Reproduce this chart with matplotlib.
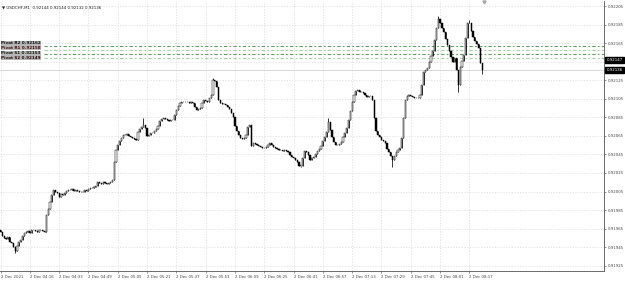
import matplotlib
matplotlib.use("Agg")
import matplotlib.pyplot as plt
import numpy as np

# ---- data (close prices in points, 0.00001) ----
first_open = 91963
closes = [
    91961, 91957, 91955, 91954, 91956, 91951, 91949, 91945, 91941, 91946,
    91951, 91953, 91957, 91960, 91961, 91962, 91960, 91964, 91963, 91962,
    91961, 91963, 91964, 91962, 91961, 91980, 91986, 91994, 92001, 92007,
    92004, 92003, 91999, 92002, 92001, 92003, 92006, 92007, 92007, 92008,
    92006, 92007, 92006, 92005, 92004, 92004, 92007, 92006, 92008, 92009,
    92009, 92010, 92011, 92015, 92014, 92013, 92015, 92014, 92013, 92014,
    92015, 92017, 92037, 92050, 92055, 92059, 92063, 92066, 92066, 92067,
    92065, 92064, 92063, 92062, 92060, 92069, 92072, 92075, 92077, 92073,
    92065, 92066, 92068, 92068, 92070, 92072, 92076, 92081, 92083, 92084,
    92083, 92082, 92081, 92082, 92082, 92087, 92093, 92097, 92100, 92101,
    92102, 92101, 92102, 92100, 92101, 92100, 92096, 92093, 92094, 92095,
    92100, 92104, 92103, 92102, 92106, 92109, 92125, 92124, 92118, 92104,
    92100, 92099, 92099, 92098, 92096, 92094, 92090, 92085, 92076, 92070,
    92066, 92063, 92062, 92063, 92066, 92075, 92077, 92054, 92057, 92056,
    92055, 92054, 92053, 92052, 92052, 92053, 92055, 92057, 92055, 92053,
    92052, 92051, 92050, 92050, 92049, 92050, 92049, 92048, 92044, 92042,
    92041, 92039, 92037, 92033, 92033, 92041, 92049, 92048, 92044, 92039,
    92041, 92042, 92045, 92049, 92051, 92054, 92059, 92064, 92069, 92080,
    92071, 92064, 92058, 92055, 92055, 92056, 92058, 92064, 92068, 92073,
    92082, 92092, 92101, 92109, 92113, 92114, 92112, 92112, 92111, 92109,
    92107, 92108, 92108, 92104, 92084, 92070, 92066, 92064, 92061, 92059,
    92057, 92051, 92048, 92043, 92039, 92043, 92048, 92050, 92052, 92063,
    92084, 92104, 92108, 92109, 92108, 92107, 92106, 92106, 92106, 92109,
    92120, 92134, 92136, 92138, 92145, 92151, 92156, 92168, 92181, 92191,
    92187, 92181, 92177, 92169, 92163, 92156, 92150, 92145, 92149, 92136,
    92120, 92139, 92146, 92152, 92171, 92187, 92187, 92178, 92172, 92167,
    92164, 92160, 92144, 92136,
]
spike_highs = {78: 92084, 116: 92127, 179: 92084, 239: 92194, 256: 92190, 263: 92144}
spike_lows = {8: 91939, 164: 92031, 214: 92031, 250: 92112, 263: 92132}

level_prices = [0.92162, 0.92158, 0.92153, 0.92149]
level_colors = ["#5e9e5e", "#a8d0a8", "#5e9e5e", "#a8d0a8"]
level_names = ["Pivot R2 0.92162", "Pivot R1 0.92158", "Pivot S1 0.92153", "Pivot S2 0.92149"]
label_prices = [0.92165, 0.92160, 0.92154, 0.92149]

ytick_vals = [0.92205, 0.92185, 0.92165, 0.92125, 0.92105, 0.92085, 0.92065,
              0.92045, 0.92025, 0.92005, 0.91985, 0.91965, 0.91945, 0.91925]
grid_vals = [0.91925 + 0.0002 * k for k in range(15)]
xtick_bars = [0, 16, 32, 48, 64, 80, 96, 112, 128, 144, 160, 176, 192, 208, 224, 240, 256]
xtick_labels = ["2 Dec 2021", "2 Dec 04:16", "2 Dec 04:33", "2 Dec 04:49", "2 Dec 05:05",
                "2 Dec 05:21", "2 Dec 05:37", "2 Dec 05:53", "2 Dec 06:09", "2 Dec 06:25",
                "2 Dec 06:41", "2 Dec 06:57", "2 Dec 07:13", "2 Dec 07:29", "2 Dec 07:45",
                "2 Dec 08:01", "2 Dec 08:17"]
bid_price = 0.92136
ask_price = 0.92147
title = "USDCHF,M1  0.92144 0.92144 0.92132 0.92136"

# ---- build OHLC ----
c = np.array(closes) / 1e5
o = np.concatenate([[first_open / 1e5], c[:-1]])
h = np.maximum(o, c)
l = np.minimum(o, c)
for k, v in spike_highs.items():
    h[k] = max(h[k], v / 1e5)
for k, v in spike_lows.items():
    l[k] = min(l[k], v / 1e5)
x = np.arange(len(c))

YMIN, YMAX = 0.919193, 0.922104
fig = plt.figure(figsize=(6.25, 2.81), dpi=100)
ax = fig.add_axes([0.0, 10 / 281, 604 / 625, 270 / 281])
ax.set_xlim(-0.3, 329.5)
ax.set_ylim(YMIN, YMAX)

# grid
for g in grid_vals:
    ax.axhline(g, color="#dcdcdc", lw=0.5, ls=(0, (2, 2)), zorder=0)
for b in xtick_bars:
    ax.axvline(b, color="#dcdcdc", lw=0.5, ls=(0, (2, 2)), zorder=0)

# levels
for p, col in zip(level_prices, level_colors):
    ax.plot([23.5, 329.5], [p, p], color=col, lw=0.8, ls=(0, (3, 2, 1.5, 2)), zorder=1)
label_cols = ["#111111", "#4a0c0c", "#102010", "#2a0a0a"]
for j, (p, name) in enumerate(zip(label_prices, level_names)):
    ax.text(0.4, p, name, fontsize=3.0,
            color=label_cols[j], fontweight="bold",
            va="center", ha="left", zorder=2,
            bbox=dict(boxstyle="square,pad=0.08", facecolor="#7a7a7a", edgecolor="none", alpha=0.55))

# bid line
ax.axhline(bid_price, color="#c8c8c8", lw=0.5, zorder=1)

# candles
up = c >= o
ax.vlines(x, l, h, color="black", lw=0.55, zorder=3)
body_h = np.abs(c - o)
body_h = np.where(body_h < 0.0000015, 0.0000015, body_h)
ax.bar(x[up], body_h[up], bottom=np.minimum(o, c)[up], width=0.65,
       facecolor="white", edgecolor="black", lw=0.35, zorder=4)
ax.bar(x[~up], body_h[~up], bottom=np.minimum(o, c)[~up], width=0.65,
       facecolor="black", edgecolor="black", lw=0.35, zorder=4)

# axes styling
ax.spines["top"].set_visible(False)
ax.spines["left"].set_visible(False)
ax.spines["right"].set_color("#555555")
ax.spines["bottom"].set_color("#555555")
ax.spines["right"].set_linewidth(0.6)
ax.spines["bottom"].set_linewidth(0.6)
ax.yaxis.tick_right()
ax.set_yticks(ytick_vals)
ax.set_yticklabels(["%.5f" % v for v in ytick_vals])
ax.tick_params(axis="y", labelsize=2.8, colors="#444444", length=1.5, width=0.4, pad=1)
ax.set_xticks(xtick_bars)
ax.set_xticklabels(xtick_labels, ha="left")
ax.tick_params(axis="x", labelsize=2.8, colors="#444444", length=1.5, width=0.4, pad=1.5)

# price boxes
for p in [ask_price, bid_price]:
    ax.text(1.004, (p - YMIN) / (YMAX - YMIN), "%.5f" % p,
            transform=ax.transAxes, fontsize=2.8, color="white", va="center", ha="left",
            bbox=dict(boxstyle="square,pad=0.3", facecolor="black", edgecolor="black"),
            clip_on=False, zorder=5)

# title and shift marker
ax.text(0.004, 0.985, "\u25bc " + title, transform=ax.transAxes, fontsize=2.9,
        color="#222222", va="top", ha="left")
ax.plot([264], [0.92209], marker="v", color="#aaaaaa", ms=2.2, clip_on=False)

fig.savefig("out.png", dpi=100)
